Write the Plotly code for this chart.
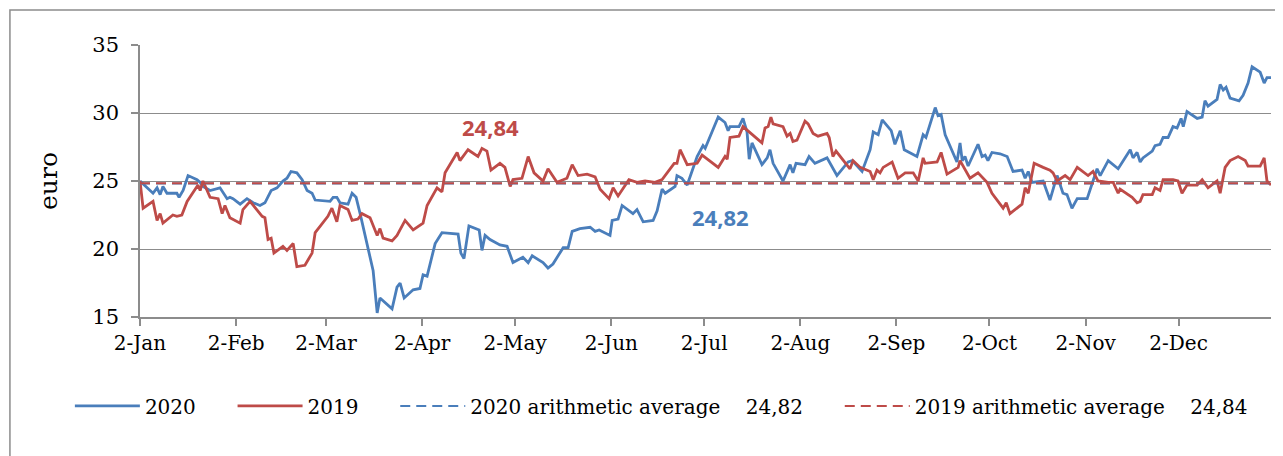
import plotly.graph_objects as go

# day offsets counted from 2 January
days_2020 = [0, 4.2, 5.5, 6.5, 7.4, 8.7, 11.9, 12.6, 13.9, 15.5, 18.4, 19.4, 20.3, 22.6, 25.8,
             28.1, 29.0, 30.0, 32.3, 34.5, 36.5, 38.7, 40.3, 42.3, 44.2, 46.1, 47.4, 48.7, 50.6,
             52.3, 53.9, 55.5, 56.5, 61.3, 62.3, 63.5, 64.5, 67.1, 68.4, 69.7, 71.0, 73.5, 75.2,
             76.5, 77.4, 81.3, 82.9, 83.9, 85.2, 88.1, 90.3, 91.3, 92.6, 95.2, 97.4, 102.6, 103.5,
             104.5, 106.1, 109.4, 110.3, 111.3, 112.9, 116.1, 118.4, 120.3, 123.5, 125.2, 126.5,
             130.0, 131.6, 133.2, 136.5, 138.1, 139.4, 141.9, 145.2, 146.8, 148.1, 151.6, 152.3,
             154.2, 155.5, 159.0, 160.3, 162.3, 165.5, 166.8, 168.4, 169.4, 172.6, 173.2, 174.8,
             176.5, 179.7, 181.6, 182.3, 186.5, 188.7, 189.7, 190.3, 193.2, 194.5, 195.8, 196.5,
             197.4, 200.6, 202.3, 203.2, 204.2, 207.4, 209.7, 210.6, 211.6, 214.5, 215.8, 217.7,
             221.6, 223.2, 224.8, 228.4, 229.7, 232.9, 235.5, 236.5, 238.1, 239.4, 242.3, 243.5,
             245.2, 246.5, 250.6, 252.6, 253.5, 256.5, 257.4, 258.4, 259.7, 263.5, 264.5, 265.2,
             266.1, 267.1, 270.3, 271.6, 272.6, 273.5, 274.8, 277.4, 279.7, 281.6, 284.5, 285.5,
             286.5, 287.7, 291.3, 293.5, 295.8, 297.7, 299.0, 300.6, 302.3, 305.5, 307.4, 308.7,
             309.7, 312.3, 315.5, 319.4, 320.3, 321.6, 322.6, 323.5, 326.5, 327.4, 329.0, 330.0,
             331.6, 333.2, 334.5, 335.8, 336.5, 337.7, 341.0, 342.6, 343.5, 344.5, 347.4, 348.4,
             349.4, 350.3, 351.6, 354.5, 355.8, 357.4, 358.7, 361.3, 362.6, 363.5, 364.8]
price_2020 = [25.0, 24.1, 24.5, 24.0, 24.6, 24.1, 24.1, 23.8, 24.3, 25.4, 25.1, 24.9, 24.6, 24.3, 24.5,
              23.7, 23.8, 23.7, 23.3, 23.7, 23.4, 23.2, 23.4, 24.3, 24.5, 25.0, 25.2, 25.7, 25.6,
              25.1, 24.3, 24.1, 23.6, 23.5, 23.8, 23.8, 23.4, 23.3, 24.1, 23.8, 22.6, 20.1, 18.4,
              15.3, 16.4, 15.6, 17.2, 17.5, 16.4, 17.0, 17.1, 18.1, 18.0, 20.4, 21.2, 21.1, 19.7,
              19.3, 21.7, 21.4, 19.9, 21.0, 20.7, 20.3, 20.2, 19.0, 19.4, 19.0, 19.5,
              19.0, 18.6, 18.9, 20.1, 20.1, 21.3, 21.5, 21.6, 21.3, 21.4, 21.0, 22.1,
              22.2, 23.2, 22.6, 22.9, 22.0, 22.1, 22.8, 24.4, 24.1, 24.6, 25.4, 25.2,
              24.7, 26.8, 27.6, 27.4, 29.7, 29.3, 28.7, 29.0, 29.0, 29.6, 28.6, 26.6,
              27.8, 26.2, 26.7, 27.3, 26.3, 25.0, 26.2, 25.6, 26.3, 26.2, 26.8, 26.3,
              26.7, 26.0, 25.4, 26.4, 26.5, 25.7, 27.3, 28.6, 28.4, 29.5, 28.7, 27.7,
              28.7, 27.3, 26.8, 28.4, 28.2, 30.4, 29.8, 29.9, 28.4, 26.4, 27.8, 26.5,
              26.8, 26.1, 27.7, 26.8, 26.9, 26.5, 27.1, 27.0, 26.8, 25.7, 25.8, 25.2,
              25.7, 24.9, 25.0, 23.6, 25.4, 24.1, 24.0, 23.0, 23.7, 23.7, 25.1, 25.9,
              25.4, 26.5, 25.9, 27.3, 26.7, 27.1, 26.4, 26.7, 27.2, 27.6, 27.7, 28.2,
              28.2, 29.0, 28.9, 29.6, 29.0, 30.1, 29.6, 29.7, 30.9, 30.5, 31.0, 32.1,
              31.7, 31.9, 31.1, 30.9, 31.3, 32.2, 33.4, 33.0, 32.2, 32.6, 32.6]

days_2019 = [0, 1.0, 4.2, 5.5, 6.5, 7.4, 10.6, 11.9, 13.5, 15.2, 18.7, 19.4, 20.3, 22.6, 25.2,
             26.5, 27.4, 29.0, 32.3, 33.2, 35.5, 39.4, 40.3, 41.3, 42.3, 43.2, 46.1, 47.4, 49.4,
             50.6, 53.2, 55.5, 56.5, 58.1, 60.6, 61.9, 63.5, 64.5, 67.1, 68.4, 70.3, 71.6, 74.2,
             76.5, 77.4, 78.4, 81.3, 82.9, 85.5, 88.1, 91.3, 92.6, 95.8, 97.4, 98.4, 102.3, 103.2,
             105.8, 109.0, 110.3, 111.9, 113.2, 116.1, 117.7, 119.4, 120.3, 123.2, 125.2, 127.1,
             130.0, 131.6, 134.5, 137.7, 139.4, 141.3, 144.2, 146.8, 148.4, 151.3, 152.6, 154.2,
             157.7, 160.3, 162.9, 166.1, 168.4, 172.3, 173.2, 174.2, 176.5, 179.7, 181.3, 186.5,
             188.7, 189.4, 190.3, 193.2, 194.5, 197.7, 200.6, 201.6, 202.6, 203.5, 204.2, 207.4,
             208.7, 209.7, 210.6, 211.9, 214.5, 215.5, 217.1, 218.7, 221.6, 222.3, 223.5, 224.5,
             227.7, 229.0, 230.0, 232.3, 235.5, 236.5, 237.7, 238.7, 239.7, 242.6, 244.5, 246.8,
             249.4, 251.0, 252.6, 253.2, 257.1, 258.4, 260.3, 263.9, 264.5, 267.7, 270.3, 273.2,
             274.8, 278.4, 279.4, 280.6, 284.5, 285.5, 286.5, 288.4, 291.3, 293.5, 294.5, 295.8,
             298.4, 300.0, 302.3, 305.8, 307.4, 309.0, 312.3, 313.9, 315.5, 316.1, 320.0, 321.6,
             322.6, 323.5, 326.5, 327.4, 329.0, 330.0, 333.2, 334.8, 336.1, 337.7, 341.0, 342.6,
             344.5, 347.4, 348.4, 350.0, 351.6, 354.2, 356.5, 357.4, 361.3, 362.6, 363.5, 364.8]
price_2019 = [25.0, 23.0, 23.5, 22.1, 22.6, 21.9, 22.5, 22.4, 22.5, 23.5, 24.7, 24.3, 25.0, 23.8, 23.7,
              22.6, 23.2, 22.3, 21.9, 22.9, 23.5, 22.4, 22.3, 20.7, 20.8, 19.7, 20.2, 19.9, 20.4,
              18.7, 18.8, 19.7, 21.2, 21.7, 22.4, 23.0, 22.0, 23.2, 22.9, 22.1, 22.2, 22.6, 22.3,
              21.0, 21.5, 20.8, 20.6, 21.0, 22.1, 21.4, 21.9, 23.2, 24.5, 24.2, 25.6, 27.1, 26.5,
              27.3, 26.8, 27.4, 27.2, 25.8, 26.3, 26.0, 24.6, 25.1, 25.2, 26.8, 25.6,
              25.0, 25.9, 24.9, 25.2, 26.2, 25.4, 25.5, 25.3, 24.4, 23.7, 24.5, 23.9,
              25.1, 24.9, 25.0, 24.9, 25.1, 26.3, 26.3, 27.3, 26.2, 26.3, 26.9, 26.0,
              26.8, 26.6, 28.2, 28.3, 29.0, 28.4, 27.8, 28.9, 29.0, 29.7, 29.2, 29.0,
              28.3, 28.5, 27.9, 28.0, 29.4, 29.2, 28.5, 28.3, 28.5, 28.2, 26.8, 27.2,
              26.3, 25.9, 26.5, 26.0, 25.7, 25.1, 25.8, 25.6, 26.0, 26.4, 25.2, 25.6,
              25.6, 25.0, 26.7, 26.3, 26.4, 27.1, 25.5, 26.0, 26.5, 25.2, 25.6, 24.9,
              24.1, 23.0, 23.4, 22.6, 23.3, 24.5, 24.1, 26.3, 26.0, 25.8, 25.6, 25.0,
              25.4, 25.1, 26.0, 25.4, 25.7, 25.0, 24.9, 24.9, 24.1, 24.4, 23.8, 23.4,
              23.5, 24.0, 24.0, 24.5, 24.3, 25.1, 25.1, 25.0, 24.1, 24.7, 24.7, 25.1,
              24.5, 25.0, 24.1, 26.0, 26.5, 26.8, 26.5, 26.1, 26.1, 26.7, 25.0, 24.7]

avg_2020 = 24.82
avg_2019 = 24.84

tick_days = [0, 31, 60, 91, 121, 152, 182, 213, 244, 274, 305, 335]
tick_labels = ["2-Jan", "2-Feb", "2-Mar", "2-Apr", "2-May", "2-Jun",
               "2-Jul", "2-Aug", "2-Sep", "2-Oct", "2-Nov", "2-Dec"]

blue = "#4a7ebb"
red = "#be4b48"
nb = "\u00a0"

fig = go.Figure()
fig.add_trace(go.Scatter(x=days_2020, y=price_2020, mode="lines", name="2020" + nb * 5,
                         line=dict(color=blue, width=2.8)))
fig.add_trace(go.Scatter(x=days_2019, y=price_2019, mode="lines", name="2019" + nb * 5,
                         line=dict(color=red, width=2.8)))
fig.add_trace(go.Scatter(x=[days_2020[0], days_2020[-1]], y=[avg_2020, avg_2020], mode="lines",
                         name="2020 arithmetic average" + nb * 4 + "24,82" + nb * 5,
                         line=dict(color=blue, width=2, dash="10px,6px")))
fig.add_trace(go.Scatter(x=[days_2019[0], days_2019[-1]], y=[avg_2019, avg_2019], mode="lines",
                         name="2019 arithmetic average" + nb * 4 + "24,84",
                         line=dict(color=red, width=2, dash="10px,6px")))

# value labels of the two averages
fig.add_annotation(x=112.9, y=28.97, text="<b>24,84</b>", showarrow=False,
                   font=dict(family="Open Sans", size=22, color=red))
fig.add_annotation(x=187.1, y=22.35, text="<b>24,82</b>", showarrow=False,
                   font=dict(family="Open Sans", size=22, color=blue))

# outer chart border
fig.add_shape(type="rect", xref="paper", yref="paper", x0=-0.115, x1=1.0097, y0=-0.6, y1=1.1287,
              line=dict(color="#8c8c8c", width=1.5), layer="below")

fig.update_xaxes(range=[0, 364.8], tickmode="array", tickvals=tick_days, ticktext=tick_labels,
                 showgrid=False, showline=True, linecolor="#8c8c8c", linewidth=2,
                 ticks="outside", ticklen=7, tickcolor="#8c8c8c", tickwidth=1.5,
                 tickfont=dict(family="DejaVu Serif", size=20, color="black"), zeroline=False)
fig.update_yaxes(range=[15, 35], dtick=5, showgrid=True, gridcolor="#8c8c8c", gridwidth=1,
                 showline=True, linecolor="#8c8c8c", linewidth=1.5,
                 ticks="outside", ticklen=7, tickcolor="#8c8c8c", tickwidth=1.5,
                 ticklabelstandoff=8,
                 tickfont=dict(family="DejaVu Serif", size=21, color="black"), zeroline=False,
                 title=dict(text="euro", font=dict(family="DejaVu Serif", size=25, color="black"),
                            standoff=28))

# the page adds an 8px body margin, so the figure is sized and placed to compensate
fig.update_layout(width=1275, height=448, margin=dict(l=132, r=12, t=37, b=139),
                  plot_bgcolor="white", paper_bgcolor="white",
                  legend=dict(orientation="h", x=-0.062, y=-0.327, xanchor="left", yanchor="middle",
                              itemwidth=65, font=dict(family="DejaVu Serif", size=20, color="black"),
                              traceorder="normal"))
fig.write_html("out.html")
